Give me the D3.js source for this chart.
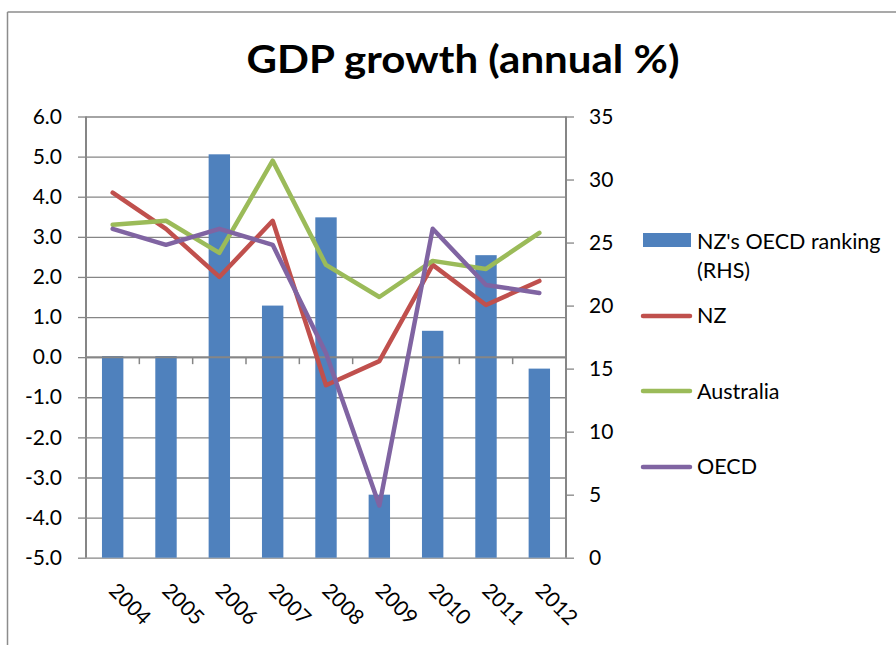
<!DOCTYPE html>
<html>
<head>
<meta charset="utf-8">
<script src="https://cdn.jsdelivr.net/npm/d3@7/dist/d3.min.js"></script>
<style>
  html, body { margin: 0; padding: 0; background: #fff; }
  svg { display: block; font-family: Lato, "Open Sans", sans-serif; }
</style>
</head>
<body>
<svg id="chart" width="896" height="645"></svg>
<script>
const years = ["2004","2005","2006","2007","2008","2009","2010","2011","2012"];
const ranking = [16, 16, 32, 20, 27, 5, 18, 24, 15];
const nz = [4.1, 3.2, 2.0, 3.4, -0.7, -0.1, 2.3, 1.3, 1.9];
const australia = [3.3, 3.4, 2.6, 4.9, 2.3, 1.5, 2.4, 2.2, 3.1];
const oecd = [3.2, 2.8, 3.2, 2.8, 0.1, -3.7, 3.2, 1.8, 1.6];
const leftTicks = [-5, -4, -3, -2, -1, 0, 1, 2, 3, 4, 5, 6];
const rightTicks = [0, 5, 10, 15, 20, 25, 30, 35];
const title = "GDP growth (annual %)";
const seriesNames = ["NZ's OECD ranking", "NZ", "Australia", "OECD"];

const colors = { bar: "#4F81BD", nz: "#C0504D", au: "#9BBB59", oecd: "#8064A2" };
const gridColor = "#868686";

const svg = d3.select("#chart");
const L = 86, R = 566, T = 116.5, B = 557.7;

const xb = d3.scaleBand().domain(years).range([L, R]);
const yL = d3.scaleLinear().domain([-5, 6]).range([B, T]);
const yR = d3.scaleLinear().domain([0, 35]).range([B, T]);

// outer border (top + left)
svg.append("line").attr("x1", 7.5).attr("x2", 896).attr("y1", 12).attr("y2", 12)
  .attr("stroke", "#8c8c8c").attr("stroke-width", 1.5);
svg.append("line").attr("x1", 7.5).attr("x2", 7.5).attr("y1", 12).attr("y2", 645)
  .attr("stroke", "#8c8c8c").attr("stroke-width", 1.5);

// title
const tt = svg.append("text").attr("x", 463).attr("y", 73)
  .attr("text-anchor", "middle").attr("font-weight", "bold").attr("font-size", 39)
  .attr("fill", "#000").text(title);
const tw = tt.node().getComputedTextLength();
if (Math.abs(tw - 433) > 4) tt.attr("textLength", 433).attr("lengthAdjust", "spacingAndGlyphs");

// gridlines
const gridAxis = d3.axisLeft(yL).tickValues(leftTicks).tickSize(-(R - L)).tickFormat("");
const gg = svg.append("g").attr("transform", `translate(${L},0)`).call(gridAxis);
gg.select(".domain").remove();
gg.selectAll("line").attr("stroke", gridColor).attr("stroke-width", 1.3);

// bars
svg.append("g").selectAll("rect").data(years).join("rect")
  .attr("x", d => xb(d) + xb.bandwidth() / 2 - 10.7)
  .attr("width", 21.4)
  .attr("y", (d, i) => yR(ranking[i]))
  .attr("height", (d, i) => yR(0) - yR(ranking[i]))
  .attr("fill", colors.bar);

// left axis
const la = d3.axisLeft(yL).tickValues(leftTicks).tickSize(8).tickPadding(16)
  .tickFormat(d3.format(".1f"));
const lg = svg.append("g").attr("transform", `translate(${L},0)`).call(la);
lg.select(".domain").attr("stroke", gridColor).attr("stroke-width", 2).attr("d", `M0,${T}V${B}`);
lg.selectAll(".tick line").attr("stroke", gridColor).attr("stroke-width", 1.3);
lg.selectAll("text").attr("font-size", 21).attr("fill", "#000").attr("font-family", "Lato")
  .text(d => d3.format(".1f")(d).replace("−", "-"));

// right axis
const ra = d3.axisRight(yR).tickValues(rightTicks).tickSize(8).tickPadding(15);
const rg = svg.append("g").attr("transform", `translate(${R},0)`).call(ra);
rg.select(".domain").attr("stroke", gridColor).attr("stroke-width", 2).attr("d", `M0,${T}V${B}`);
rg.selectAll(".tick line").attr("stroke", gridColor).attr("stroke-width", 1.3);
rg.selectAll("text").attr("font-size", 21).attr("fill", "#000").attr("font-family", "Lato");

// category axis at zero line
const y0 = yL(0);
svg.append("line").attr("x1", L).attr("x2", R).attr("y1", y0).attr("y2", y0)
  .attr("stroke", gridColor).attr("stroke-width", 2);
const bounds = years.map(d => xb(d)).concat([R]);
svg.append("g").selectAll("line").data(bounds).join("line")
  .attr("x1", d => d).attr("x2", d => d).attr("y1", y0).attr("y2", y0 + 7)
  .attr("stroke", gridColor).attr("stroke-width", 1.5);

// year labels
svg.append("g").selectAll("text").data(years).join("text")
  .attr("transform", d => `translate(${xb(d) + xb.bandwidth() / 2 - 5},592) rotate(45)`)
  .attr("font-size", 21).attr("fill", "#000").text(d => d);

// lines
const lineGen = arr => d3.line()
  .x((d, i) => xb(years[i]) + xb.bandwidth() / 2)
  .y(d => yL(d))(arr);
[[nz, colors.nz], [australia, colors.au], [oecd, colors.oecd]].forEach(([arr, c]) => {
  svg.append("path").attr("d", lineGen(arr)).attr("fill", "none")
    .attr("stroke", c).attr("stroke-width", 4.5)
    .attr("stroke-linejoin", "round").attr("stroke-linecap", "round");
});

// legend
const lgd = svg.append("g");
lgd.append("rect").attr("x", 643).attr("y", 233).attr("width", 48).attr("height", 14).attr("fill", colors.bar);
lgd.append("text").attr("x", 697).attr("y", 249).attr("font-size", 21.5).text(seriesNames[0]);
lgd.append("text").attr("x", 697).attr("y", 278).attr("font-size", 21.5).text("(RHS)");
const legItems = [[seriesNames[1], colors.nz, 316, 323], [seriesNames[2], colors.au, 391, 399], [seriesNames[3], colors.oecd, 467, 474]];
legItems.forEach(([name, c, ly, ty]) => {
  lgd.append("line").attr("x1", 643).attr("x2", 690).attr("y1", ly).attr("y2", ly)
    .attr("stroke", c).attr("stroke-width", 4.5).attr("stroke-linecap", "round");
  lgd.append("text").attr("x", 697).attr("y", ty).attr("font-size", 21.5).text(name);
});
</script>
</body>
</html>
